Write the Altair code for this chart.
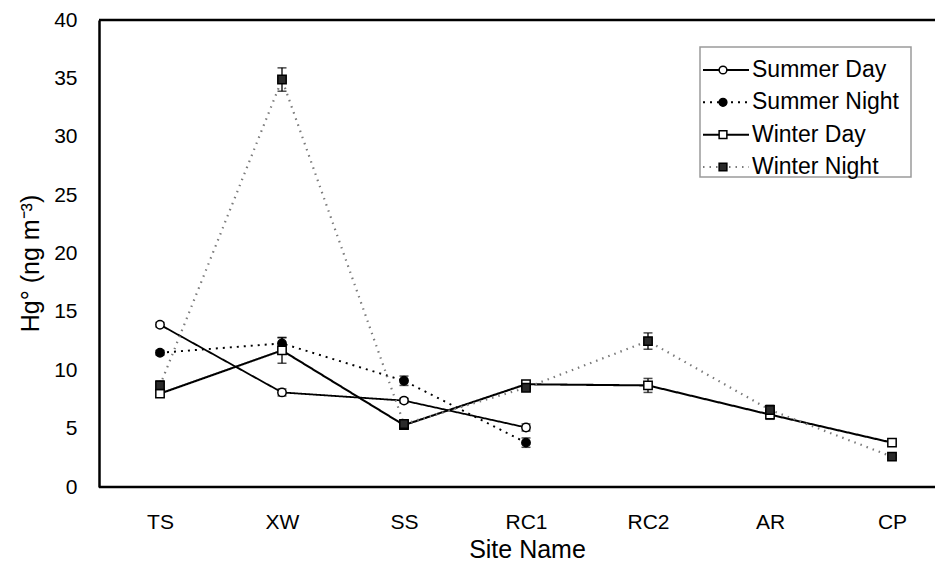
import altair as alt
import pandas as pd

sites = ["TS", "XW", "SS", "RC1", "RC2", "AR", "CP"]
series_names = ["Summer Day", "Summer Night", "Winter Day", "Winter Night"]

summer_day = [13.9, 8.1, 7.4, 5.1]
summer_day_err = [0.2, 0.3, 0.2, 0.3]
summer_night = [11.5, 12.3, 9.1, 3.8]
summer_night_err = [0.2, 0.5, 0.4, 0.4]
winter_day = [8.0, 11.7, 5.3, 8.8, 8.7, 6.2, 3.8]
winter_day_err = [0.3, 1.1, 0.2, 0.3, 0.6, 0.4, 0.1]
winter_night = [8.7, 34.9, 5.4, 8.5, 12.5, 6.6, 2.6]
winter_night_err = [0.4, 1.0, 0.3, 0.2, 0.7, 0.4, 0.1]

y_ticks = [0, 5, 10, 15, 20, 25, 30, 35, 40]

rows = []
for name, vals, errs in [
    ("Summer Day", summer_day, summer_day_err),
    ("Summer Night", summer_night, summer_night_err),
    ("Winter Day", winter_day, winter_day_err),
    ("Winter Night", winter_night, winter_night_err),
]:
    for i, (v, e) in enumerate(zip(vals, errs)):
        rows.append({"site": sites[i], "series": name, "value": v,
                     "lo": v - e, "hi": v + e, "order": i})
df = pd.DataFrame(rows)

FONT = "Liberation Sans"

col = alt.Scale(domain=series_names, range=["#000000", "#000000", "#000000", "#7a7a7a"])
dash = alt.Scale(domain=series_names, range=[[1, 0], [2, 5], [1, 0], [1.5, 5]])
swidth = alt.Scale(domain=series_names, range=[1.8, 2.2, 2.2, 1.6])
shape = alt.Scale(domain=series_names, range=["circle", "circle", "square", "square"])
fillsc = alt.Scale(domain=series_names, range=["#ffffff", "#000000", "#ffffff", "#2a2a2a"])

xsc = alt.Scale(type="point", domain=sites, range=[61, 793], padding=0)
ysc = alt.Scale(domain=[0, 40], nice=False)

xenc = alt.X("site:N", scale=xsc, sort=sites,
             axis=alt.Axis(title="Site Name", labelAngle=0, ticks=False, grid=False,
                           domain=False,
                           labelFontSize=21, titleFontSize=25, titleFontWeight="normal",
                           labelPadding=24, titlePadding=5, titleX=428))
yaxis = alt.Axis(title="Hg° (ng m⁻³)", values=y_ticks, ticks=False, grid=False,
                 domainWidth=2.5, domainColor="black",
                 labelFontSize=21, labelPadding=22,
                 titleFontSize=25, titleFontWeight="normal",
                 titlePadding=10, titleY=243)

base = alt.Chart(df)

lines = base.mark_line().encode(
    x=xenc,
    y=alt.Y("value:Q", scale=ysc, axis=yaxis),
    detail="series:N",
    order="order:Q",
    color=alt.Color("series:N", scale=col, legend=None),
    strokeDash=alt.StrokeDash("series:N", scale=dash, legend=None),
    strokeWidth=alt.StrokeWidth("series:N", scale=swidth, legend=None),
)

err = base.mark_rule(color="black", strokeWidth=1.3).encode(
    x=alt.X("site:N", scale=xsc, sort=sites),
    y=alt.Y("lo:Q", scale=ysc),
    y2="hi:Q",
)
cap_lo = base.mark_tick(orient="horizontal", size=9, thickness=1.5, color="black").encode(
    x=alt.X("site:N", scale=xsc, sort=sites),
    y=alt.Y("lo:Q", scale=ysc),
)
cap_hi = base.mark_tick(orient="horizontal", size=9, thickness=1.5, color="black").encode(
    x=alt.X("site:N", scale=xsc, sort=sites),
    y=alt.Y("hi:Q", scale=ysc),
)

points = base.mark_point(filled=True, opacity=1, stroke="black", strokeWidth=1.5, size=70).encode(
    x=alt.X("site:N", scale=xsc, sort=sites),
    y=alt.Y("value:Q", scale=ysc),
    shape=alt.Shape("series:N", scale=shape, legend=None),
    fill=alt.Fill("series:N", scale=fillsc, legend=None),
)

frame = alt.Chart(pd.DataFrame({"v": [y_ticks[0], y_ticks[-1]]})).mark_rule(
    color="black", strokeWidth=2.5).encode(y=alt.Y("v:Q", scale=ysc))

main = alt.layer(frame, lines, err, cap_lo, cap_hi, points)

# manual legend
leg_df = pd.DataFrame({"series": series_names})
ly = alt.Y("series:N", scale=alt.Scale(type="point", domain=series_names,
                                       range=[50, 147], padding=0), axis=None)
box = alt.Chart(pd.DataFrame({"k": [0]})).mark_rect(
    fill="white", stroke="#9a9a9a", strokeWidth=1.5).encode(
    x=alt.value(601), x2=alt.value(812), y=alt.value(27), y2=alt.value(157))
leg_lines = alt.Chart(leg_df).mark_rule().encode(
    x=alt.value(604), x2=alt.value(650), y=ly,
    color=alt.Color("series:N", scale=col, legend=None),
    strokeDash=alt.StrokeDash("series:N", scale=dash, legend=None),
    strokeWidth=alt.StrokeWidth("series:N", scale=swidth, legend=None),
)
leg_pts = alt.Chart(leg_df).mark_point(filled=True, opacity=1, stroke="black",
                                       strokeWidth=1.5, size=60).encode(
    x=alt.value(624), y=ly,
    shape=alt.Shape("series:N", scale=shape, legend=None),
    fill=alt.Fill("series:N", scale=fillsc, legend=None),
)
leg_txt = alt.Chart(leg_df).mark_text(align="left", baseline="middle", fontSize=23,
                                      font=FONT, color="black").encode(
    x=alt.value(653), y=ly, text="series:N")
legend = alt.layer(box, leg_lines, leg_pts, leg_txt)

chart = alt.layer(main, legend).resolve_scale(y="independent").properties(
    width=836, height=467,
    autosize=alt.AutoSizeParams(type="none"),
    padding={"left": 91, "top": 12, "right": 0, "bottom": 76},
).configure_view(stroke=None).configure_axis(
    labelFont=FONT, titleFont=FONT, labelColor="black", titleColor="black",
    titleFontWeight="normal",
).configure(background="white")

chart.save("out.html", embed_options={"renderer": "svg", "actions": False})
